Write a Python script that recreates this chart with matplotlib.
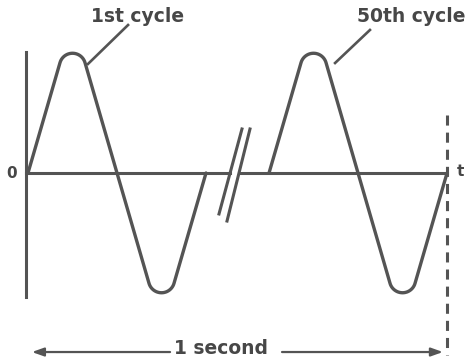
import numpy as np
import matplotlib
matplotlib.use("Agg")
import matplotlib.pyplot as plt

# === Data ===
# one cycle of the sketched wave: time (in cycles) and corner amplitude
# (corners are the apexes of the straight flanks, before rounding)
cycle_t = [0.0, 0.25, 0.75, 1.0]
cycle_v = [0.0, 1.30, -1.30, 0.0]
cycle_starts = [0.0, 1.354]          # 1st cycle, 50th cycle (after the break)
cycle_labels = ["1st cycle", "50th cycle"]
axis_label_y = "0"
axis_label_x = "t"
span_label = "1 second"

# === Style ===
LINE = "#545454"
TEXT = "#474747"
CORNER_R = 13  # px, rounding of the peaks
W, H, DPI = 4.7, 3.63, 100

fig = plt.figure(figsize=(W, H), dpi=DPI)
ax = fig.add_axes([0, 0, 1, 1])
ax.set_xlim(-0.1573, 2.483)
ax.set_ylim(-1.610, 1.466)
ax.axis("off")


def rounded(xs, ys, r):
    # fillet the non-zero corners of a polyline, done in pixel space
    pts = ax.transData.transform(np.column_stack([xs, ys]))
    out = [pts[0]]
    for i in range(1, len(pts) - 1):
        p = pts[i]
        if ys[i] == 0:
            out.append(p)
            continue
        u1 = (pts[i - 1] - p) / np.linalg.norm(pts[i - 1] - p)
        u2 = (pts[i + 1] - p) / np.linalg.norm(pts[i + 1] - p)
        half = np.arccos(np.clip(np.dot(u1, u2), -1, 1)) / 2
        d = r / np.tan(half)
        t1, t2 = p + u1 * d, p + u2 * d
        bis = (u1 + u2) / np.linalg.norm(u1 + u2)
        c = p + bis * (r / np.sin(half))
        a1 = np.arctan2(*(t1 - c)[::-1])
        a2 = np.arctan2(*(t2 - c)[::-1])
        da = (a2 - a1 + np.pi) % (2 * np.pi) - np.pi
        for a in np.linspace(a1, a1 + da, 25):
            out.append(c + r * np.array([np.cos(a), np.sin(a)]))
    out.append(pts[-1])
    back = ax.transData.inverted().transform(np.array(out))
    return back[:, 0], back[:, 1]


# === Waves ===
for t0 in cycle_starts:
    xs = [t0 + t for t in cycle_t]
    x, y = rounded(xs, cycle_v, CORNER_R)
    ax.plot(x, y, color=LINE, lw=2.4, solid_capstyle="round", solid_joinstyle="round")

# === Axes lines ===
end_t = cycle_starts[1] + cycle_t[-1]
ax.plot([-0.011, -0.011], [1.025, -1.051], color=LINE, lw=2.2)
ax.plot([-0.011, 1.135], [0, 0], color=LINE, lw=2.2)
ax.plot([1.191, end_t], [0, 0], color=LINE, lw=2.2)

# break marks
ax.plot([1.073, 1.202], [-0.347, 0.373], color=LINE, lw=2.2)
ax.plot([1.118, 1.247], [-0.407, 0.373], color=LINE, lw=2.2)

# dashed end-of-second marker
ax.plot([end_t, end_t], [0.49, -1.54], color=LINE, lw=2.2,
        linestyle=(0, (3.3, 2.3)))

# === Labels ===
ax.text(-0.09, 0, axis_label_y, color=TEXT, fontsize=11, fontweight="bold",
        ha="center", va="center")
ax.text(2.427, 0.01, axis_label_x, color=TEXT, fontsize=11, fontweight="bold",
        ha="center", va="center")

ax.text(0.618, 1.33, cycle_labels[0], color=TEXT, fontsize=13.5,
        fontweight="bold", ha="center", va="center")
ax.text(2.154, 1.33, cycle_labels[1], color=TEXT, fontsize=13.5,
        fontweight="bold", ha="center", va="center")
ax.plot([0.337, 0.562], [0.924, 1.254], color=LINE, lw=1.9)
ax.plot([1.725, 1.921], [0.932, 1.212], color=LINE, lw=1.9)

# === 1 second span ===
arrow = dict(arrowstyle="-|>,head_length=0.7,head_width=0.25", color=LINE,
             lw=1.6, shrinkA=0, shrinkB=0)
ax.annotate("", xy=(0.022, -1.517), xytext=(0.798, -1.517), arrowprops=arrow)
ax.annotate("", xy=(2.331, -1.517), xytext=(1.427, -1.517), arrowprops=arrow)
ax.text(1.084, -1.49, span_label, color=TEXT, fontsize=13.5, fontweight="bold",
        ha="center", va="center")

fig.savefig("out.png", dpi=DPI)
